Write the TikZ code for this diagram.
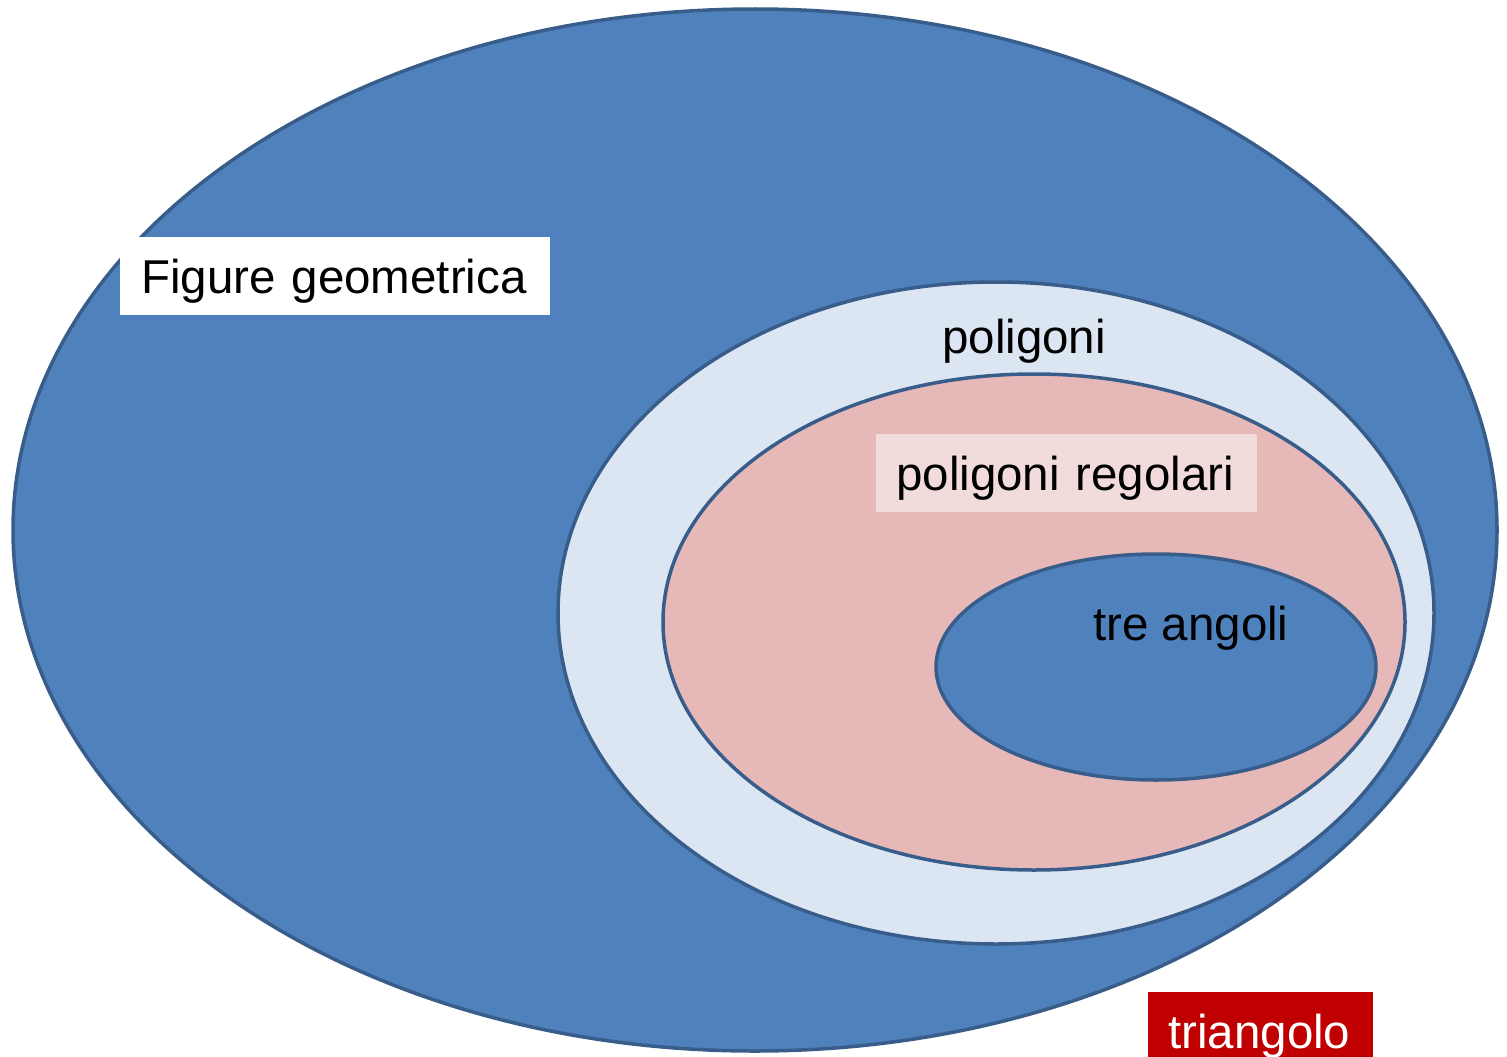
\documentclass[tikz,border=0pt]{standalone}
\usepackage{fontspec}
\setmainfont{Liberation Sans}
\definecolor{blu}{HTML}{4F81BD}
\definecolor{bluedge}{HTML}{385D8A}
\definecolor{lightblu}{HTML}{DCE6F2}
\definecolor{rosa}{HTML}{E6B9B8}
\definecolor{rosachiaro}{HTML}{F2DCDB}
\definecolor{rosso}{HTML}{C00000}
\begin{document}
\begin{tikzpicture}[x=1pt,y=-1pt,
  setshape/.style={line width=3.5pt, draw=bluedge},
  lbl/.style={font=\fontsize{47.5}{50}\selectfont, anchor=base west, inner ysep=0pt, inner xsep=20pt, text height=56pt, text depth=22pt, align=left}]
\useasboundingbox (0,0) rectangle (1507,1057);
\clip (0,0) rectangle (1507,1057);
\filldraw[setshape, fill=blu] (755,530) ellipse [x radius=742, y radius=521];
\filldraw[setshape, fill=lightblu] (996,613) ellipse [x radius=438, y radius=331];
\filldraw[setshape, fill=rosa] (1034,622) ellipse [x radius=371, y radius=248];
\filldraw[setshape, fill=blu] (1156,667) ellipse [x radius=220, y radius=113];
\node[lbl, fill=white, inner xsep=21pt, text width=388pt] (fig) at (120,293) {Figure geometrica};
\node[lbl, inner xsep=0pt] (pol) at (942,353) {poligoni};
\node[lbl, fill=rosachiaro, text width=341pt] (reg) at (876,490) {poligoni regolari};
\node[lbl, inner xsep=0pt] (tre) at (1093,640) {tre angoli};
\node[lbl, fill=rosso, text=white, text width=185pt] (tri) at (1148,1048) {triangolo};
\end{tikzpicture}
\end{document}
